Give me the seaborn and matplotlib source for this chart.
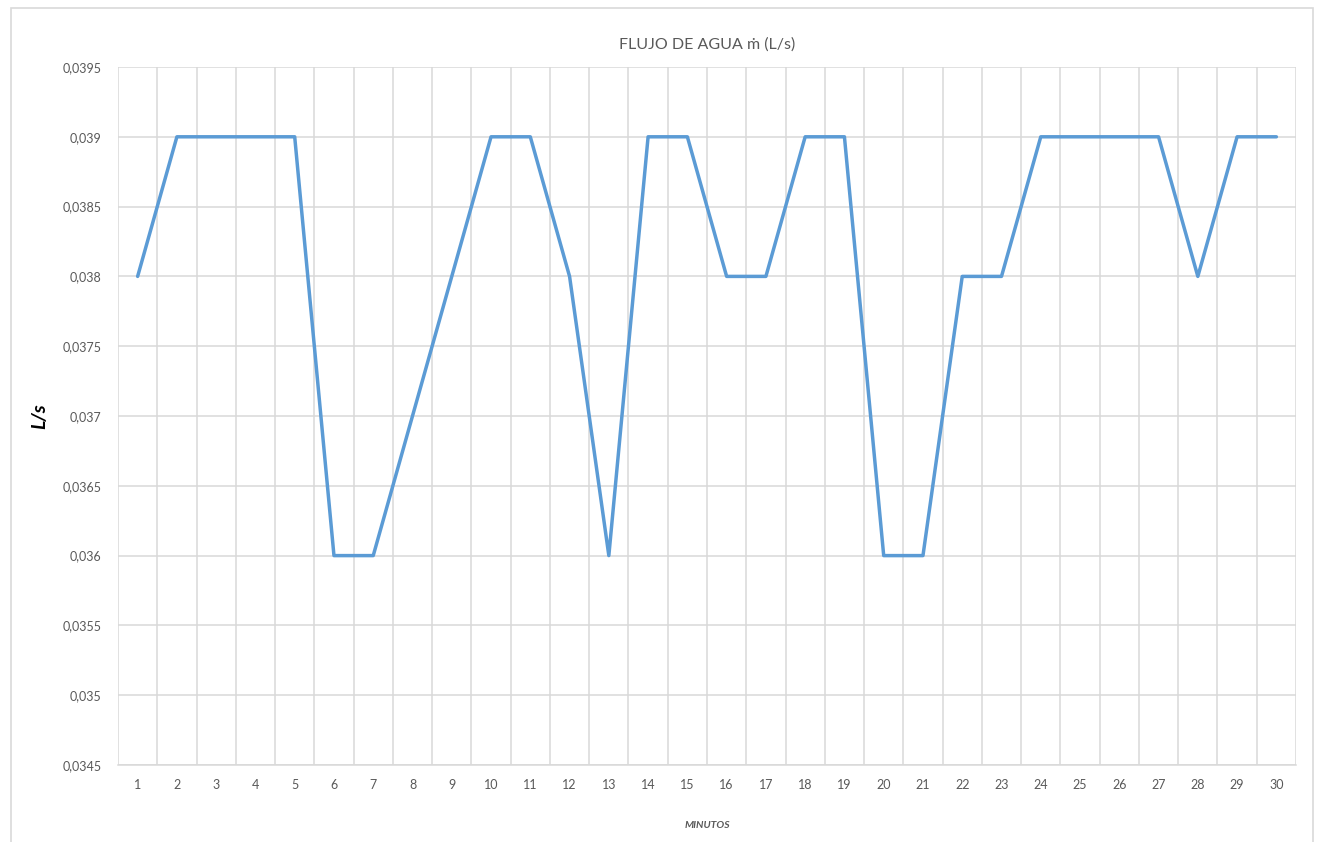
import numpy as np
import pandas as pd
import matplotlib
matplotlib.use('Agg')
import matplotlib.pyplot as plt
from matplotlib.patches import Rectangle
from matplotlib.ticker import FixedLocator, FuncFormatter
import seaborn as sns

# datos
minutos = list(range(1, 31))
flujo = [0.038, 0.039, 0.039, 0.039, 0.039, 0.036, 0.036, 0.037, 0.038, 0.039,
         0.039, 0.038, 0.036, 0.039, 0.039, 0.038, 0.038, 0.039, 0.039, 0.036,
         0.036, 0.038, 0.038, 0.039, 0.039, 0.039, 0.039, 0.038, 0.039, 0.039]
yticks = [0.0345, 0.035, 0.0355, 0.036, 0.0365, 0.037, 0.0375, 0.038, 0.0385, 0.039, 0.0395]

data = pd.DataFrame({'Minutos': minutos, 'Flujo': flujo})

sns.set_style('white')
plt.rcParams['font.family'] = ['Lato', 'DejaVu Sans']

fig = plt.figure(figsize=(13.22, 8.42), dpi=100)
ax = fig.add_axes([118/1322, 1 - 765/842, (1296 - 118)/1322, (765 - 67)/842])

sns.lineplot(x='Minutos', y='Flujo', data=data, ax=ax, color='#5b9bd5', linewidth=2.5)

grid_col = '#d9d9d9'
ax.set_xlim(0.5, 30.5)
ax.set_ylim(0.0345, 0.0395)
ax.set_xticks(minutos)
ax.xaxis.set_minor_locator(FixedLocator(np.arange(0.5, 31, 1)))
ax.set_yticks(yticks)
ax.yaxis.set_major_formatter(FuncFormatter(lambda v, p: ('%g' % round(v, 4)).replace('.', ',')))
ax.grid(True, which='minor', axis='x', color=grid_col, linewidth=1.1)
ax.grid(True, which='major', axis='y', color=grid_col, linewidth=1.1)
ax.tick_params(which='both', length=0, labelsize=9, labelcolor='#595959')
ax.tick_params(axis='x', pad=10)
ax.tick_params(axis='y', pad=12)
for s in ax.spines.values():
    s.set_visible(False)
ax.spines['bottom'].set_visible(True)
ax.spines['bottom'].set_color(grid_col)
ax.spines['bottom'].set_linewidth(1.1)

ax.set_title('FLUJO DE AGUA ṁ (L/s)', fontsize=11.5, color='#595959', pad=13)
ax.set_xlabel('MINUTOS', fontsize=7.5, fontweight='bold', fontstyle='italic', color='#595959', labelpad=22)
ax.set_ylabel('L/s', fontsize=14, fontweight='bold', fontstyle='italic', color='black', labelpad=10)

# borde del area del grafico
fig.patches.append(Rectangle((11/1322, -0.02), (1313 - 11)/1322, 1.02 - 8/842,
                             transform=fig.transFigure, fill=False, edgecolor=grid_col, linewidth=1.2))

fig.savefig('out.png', dpi=100)
